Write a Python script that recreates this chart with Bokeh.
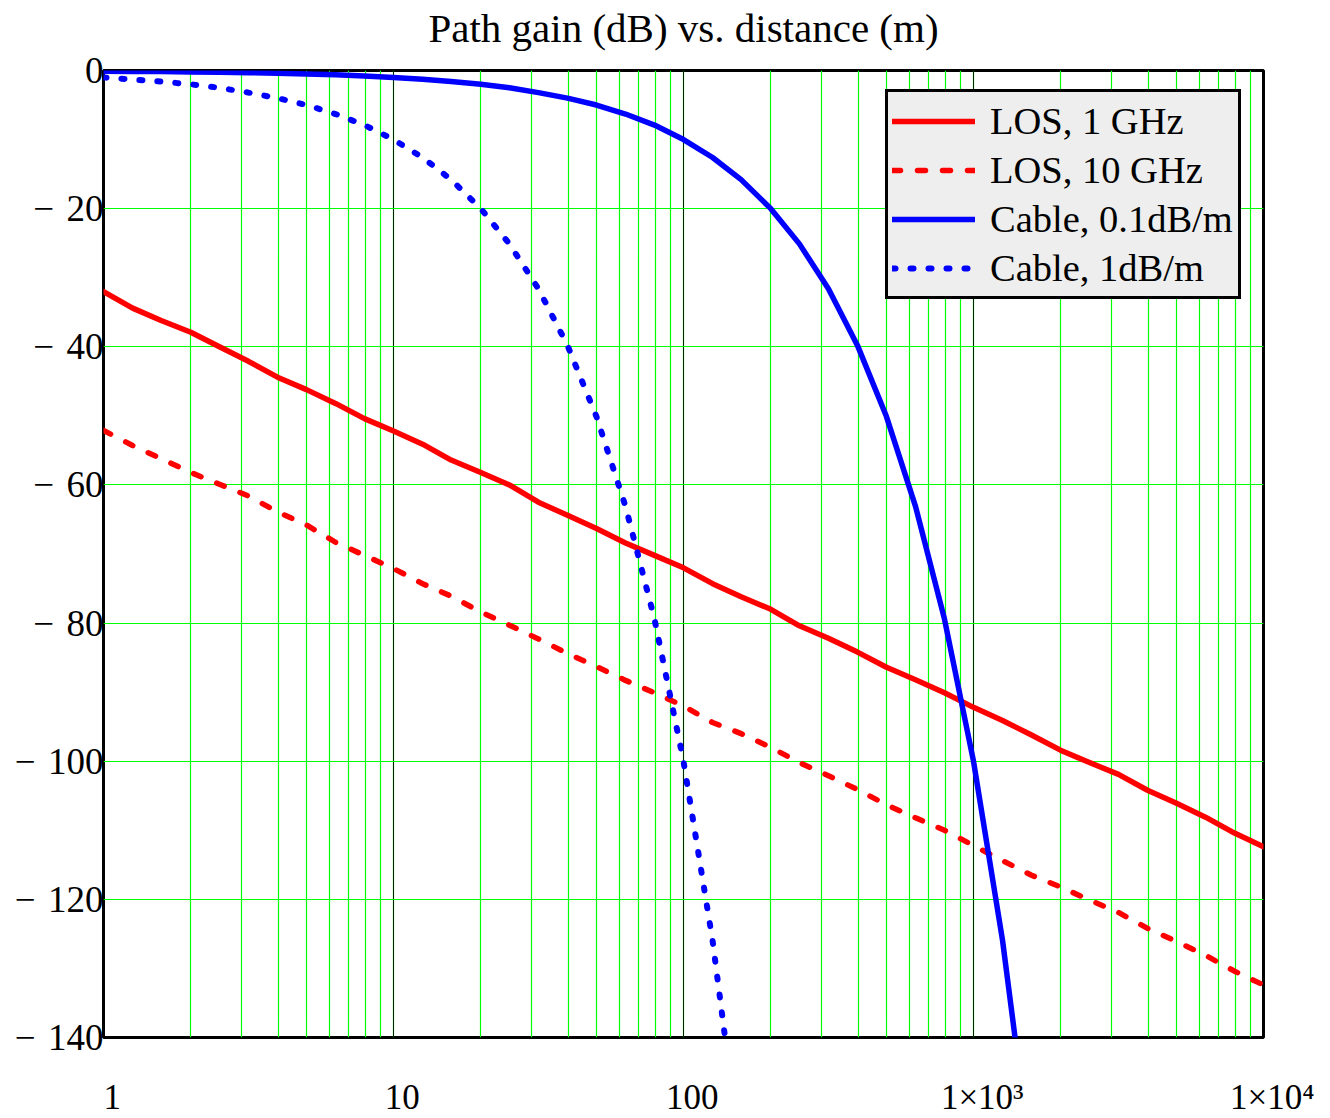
from bokeh.plotting import figure
from bokeh.models import Range1d, FixedTicker, LogTicker, Legend, LegendItem, LogAxis
from bokeh.embed import file_html
from bokeh.resources import INLINE

# ---------------- data ----------------
distance = [1, 1.26, 1.58, 2.0, 2.51, 3.16, 3.98, 5.01, 6.31, 7.94,
            10, 12.6, 15.8, 20.0, 25.1, 31.6, 39.8, 50.1, 63.1, 79.4,
            100, 126, 158, 200, 251, 316, 398, 501, 631, 794,
            1000, 1259, 1585, 1995, 2512, 3162, 3981, 5012, 6310, 7943, 10000]

los_1ghz = [-32.0, -34.4, -36.2, -37.9, -40.0, -42.1, -44.4, -46.2, -48.2, -50.4,
            -52.2, -54.1, -56.4, -58.2, -60.0, -62.5, -64.4, -66.3, -68.4, -70.2,
            -72.0, -74.3, -76.2, -78.0, -80.4, -82.2, -84.2, -86.4, -88.2, -90.1,
            -92.2, -94.1, -96.2, -98.4, -100.2, -101.9, -104.2, -106.1, -108.1, -110.4, -112.4]

los_10ghz = [-52.1, -54.3, -56.2, -58.2, -59.9, -61.6, -63.9, -65.8, -68.3, -70.2,
             -72.1, -74.3, -76.1, -78.4, -80.3, -82.3, -84.4, -86.3, -88.3, -90.1,
             -92.0, -94.4, -96.0, -98.0, -100.2, -102.1, -104.1, -106.3, -108.2, -110.0,
             -112.2, -114.4, -116.5, -118.2, -120.1, -121.9, -124.2, -126.1, -128.1, -130.4, -132.4]

cable_01 = [-0.1, -0.13, -0.16, -0.2, -0.25, -0.32, -0.4, -0.5, -0.63, -0.8,
            -1.0, -1.26, -1.6, -2.0, -2.5, -3.2, -4.0, -5.0, -6.3, -7.9,
            -10.0, -12.6, -15.8, -20.0, -25.1, -31.6, -39.8, -50.1, -63.1, -79.4,
            -100.0, -125.9, -158.5]

cable_1 = [-1.0, -1.3, -1.6, -2.0, -2.5, -3.2, -4.0, -5.0, -6.3, -7.9,
           -10.0, -12.6, -15.8, -20.0, -25.1, -31.6, -39.8, -50.1, -63.1, -79.4,
           -100.0, -126.0, -158.0]

series_labels = ["LOS, 1 GHz", "LOS, 10 GHz", "Cable, 0.1dB/m", "Cable, 1dB/m"]

y_ticks = [0, -20, -40, -60, -80, -100, -120, -140]
y_tick_labels = ["0", "\u2212\u200420", "\u2212\u200440", "\u2212\u200460", "\u2212\u200480",
                 "\u2212\u2004100", "\u2212\u2004120", "\u2212\u2004140"]
x_ticks = [1, 10, 100, 1000, 10000]
x_tick_labels = ["1", "10", "100", "1\u00d710\u00b3", "1\u00d710\u2074"]

title_text = "Path gain (dB) vs. distance (m)"

# ---------------- figure ----------------
SERIF = "Liberation Serif"

p = figure(x_axis_type="log", output_backend="svg", toolbar_location=None,
           frame_width=1160, frame_height=967,
           x_range=Range1d(1, 10000), y_range=Range1d(-140, 0))
p.min_border_left = 103
p.min_border_right = 60
p.min_border_top = 70
p.min_border_bottom = 77
p.background_fill_color = "white"
p.border_fill_color = "white"

p.outline_line_color = "black"
p.outline_line_width = 3
p.outline_line_alpha = 1.0

p.title.text = ""

# chart title: label of a tick-less axis above the frame
top_axis = LogAxis(ticker=FixedTicker(ticks=[]), major_tick_out=0, major_tick_in=0,
                   minor_tick_out=0, minor_tick_in=0, major_label_standoff=0,
                   axis_line_color=None, major_tick_line_color=None,
                   minor_tick_line_color=None,
                   axis_label=title_text, axis_label_standoff=20,
                   axis_label_text_font=SERIF, axis_label_text_font_size="41px",
                   axis_label_text_font_style="normal", axis_label_text_color="black")
p.add_layout(top_axis, "above")

# grids
p.xgrid.ticker = LogTicker(num_minor_ticks=10)
p.xgrid.grid_line_color = "black"
p.xgrid.grid_line_width = 1
p.xgrid.grid_line_alpha = 0.85
p.xgrid.minor_grid_line_color = "#00ff00"
p.xgrid.minor_grid_line_width = 1.2
p.ygrid.ticker = FixedTicker(ticks=y_ticks)
p.ygrid.grid_line_color = "#00ff00"
p.ygrid.grid_line_width = 1.2
p.ygrid.grid_line_alpha = 1.0

# axes
xaxis = p.below[0]
xaxis.ticker = FixedTicker(ticks=x_ticks)
xaxis.major_label_overrides = {t: "\u2002" + s for t, s in zip(x_ticks, x_tick_labels)}
xaxis.major_label_text_font = SERIF
xaxis.major_label_text_font_size = "35px"
xaxis.major_label_text_color = "black"
xaxis.major_label_standoff = 40

yaxis = p.left[0]
yaxis.ticker = FixedTicker(ticks=y_ticks)
yaxis.major_label_overrides = {t: s for t, s in zip(y_ticks, y_tick_labels)}
yaxis.major_label_text_font = SERIF
yaxis.major_label_text_font_size = "37px"
yaxis.major_label_text_color = "black"
yaxis.major_label_standoff = 0

for ax in (xaxis, yaxis):
    ax.axis_line_color = None
    ax.major_tick_line_color = None
    ax.minor_tick_line_color = None
    ax.major_tick_out = 0
    ax.major_tick_in = 0
    ax.minor_tick_out = 0
    ax.minor_tick_in = 0

# lines
r1 = p.line(distance, los_1ghz, line_color="#ff0000", line_width=5.5, line_cap="round", line_join="round")
r2 = p.line(distance, los_10ghz, line_color="#ff0000", line_width=5.5, line_dash="8 17",
            line_cap="round", line_join="round")
r3 = p.line(distance[:len(cable_01)], cable_01, line_color="#0000ff", line_width=5.5,
            line_cap="round", line_join="round")
r4 = p.line(distance[:len(cable_1)], cable_1, line_color="#0000ff", line_width=6, line_dash="3 15",
            line_cap="round", line_join="round")

legend = Legend(items=[LegendItem(label=lab, renderers=[r]) for lab, r in
                       zip(series_labels, [r1, r2, r3, r4])],
                location=(782, 738))
legend.background_fill_color = "#eeeeee"
legend.background_fill_alpha = 1.0
legend.border_line_color = "black"
legend.border_line_width = 3
legend.border_line_alpha = 1.0
legend.label_text_font = SERIF
legend.label_text_font_size = "38.5px"
legend.label_text_color = "black"
legend.glyph_width = 83
legend.glyph_height = 20
legend.label_height = 49
legend.label_width = 244
legend.spacing = 0
legend.padding = 4
legend.margin = 0
legend.label_standoff = 15
p.add_layout(legend)

open("out.html", "w").write(file_html(p, INLINE))
